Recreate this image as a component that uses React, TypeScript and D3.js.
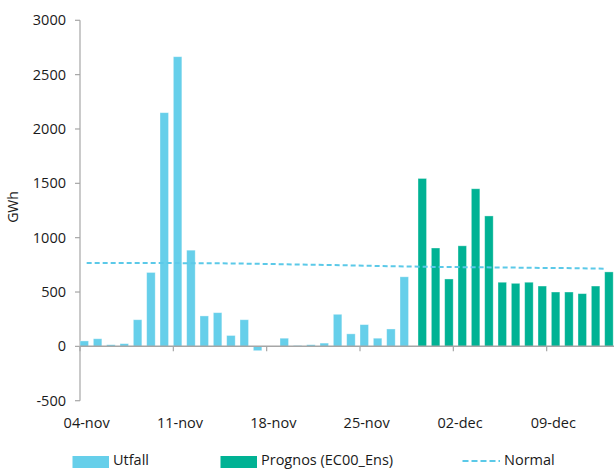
import * as d3 from "d3";

const days = [
  "04-nov", "05-nov", "06-nov", "07-nov", "08-nov", "09-nov", "10-nov",
  "11-nov", "12-nov", "13-nov", "14-nov", "15-nov", "16-nov", "17-nov",
  "18-nov", "19-nov", "20-nov", "21-nov", "22-nov", "23-nov", "24-nov",
  "25-nov", "26-nov", "27-nov", "28-nov", "29-nov", "30-nov", "01-dec",
  "02-dec", "03-dec", "04-dec", "05-dec", "06-dec", "07-dec", "08-dec",
  "09-dec", "10-dec", "11-dec", "12-dec", "13-dec",
];

// Utfall: 04-nov .. 28-nov
const utfall = [
  50, 70, 15, 25, 245, 680, 2150, 2665, 885, 280, 310, 100, 245,
  -40, -5, 75, 8, 15, 30, 295, 115, 200, 75, 160, 640,
];

// Prognos (EC00_Ens): 29-nov .. 13-dec
const prognosStart = "29-nov";
const prognos = [
  1545, 905, 620, 925, 1450, 1200, 590, 580, 590, 555, 500, 500, 485, 555, 685,
];

// Normal: every day
const normal = [
  768, 768, 768, 767, 767, 767, 766, 766, 765, 765,
  764, 763, 761, 759, 757, 755, 753, 751, 749, 747,
  744, 742, 739, 737, 735, 733, 731, 730, 729, 728,
  727, 726, 725, 723, 722, 721, 720, 718, 716, 714,
];

const weekTicks = ["04-nov", "11-nov", "18-nov", "25-nov", "02-dec", "09-dec"];
const yTicks = [-500, 0, 500, 1000, 1500, 2000, 2500, 3000];

const W = 614;
const H = 470;
const FONT = "'Open Sans', 'Liberation Sans', sans-serif";
const C_UTFALL = "#66cfea";
const C_PROGNOS = "#00b294";
const C_NORMAL = "#5bc9e8";
const C_AXIS = "#a6a6a6";
const C_TEXT = "#1a1a1a";

export default function App() {
  const x = d3.scaleBand<string>().domain(days).range([80, 80 + days.length * (40 / 3)]);
  const y = d3.scaleLinear().domain([-500, 3000]).range([400.7, 20.3]);
  const bw = x.bandwidth();
  const barW = bw * 0.64;
  // clustered series, second one shifted inside the day slot
  const inner = d3.scalePoint<string>().domain(["Utfall", "Prognos"]).range([0, bw * 0.35]);

  const pStart = days.indexOf(prognosStart);
  const y0 = y(0);

  const line = d3
    .line<number>()
    .x((_, i) => (x(days[i]) as number) + bw / 2)
    .y((d) => y(d));

  const bar = (v: number) => ({ yTop: Math.min(y(v), y0), h: Math.abs(y(v) - y0) });

  const legendY = 465;

  return (
    <svg
      width={W}
      height={H}
      style={{ position: "absolute", left: 0, top: 0, background: "#fff" }}
      fontFamily={FONT}
    >
      {/* y axis */}
      <line x1={80} x2={80} y1={y(3000)} y2={y(-500)} stroke={C_AXIS} strokeWidth={1.2} />
      {yTicks.map((t) => (
        <g key={t}>
          <line x1={75} x2={80} y1={y(t)} y2={y(t)} stroke={C_AXIS} strokeWidth={1.2} />
          <text x={66} y={y(t)} dy="0.35em" textAnchor="end" fontSize={14.5} fill={C_TEXT}>
            {t}
          </text>
        </g>
      ))}
      <text
        transform={`translate(18,207) rotate(-90)`}
        textAnchor="middle"
        fontSize={14}
        fill={C_TEXT}
      >
        GWh
      </text>

      {/* bars */}
      {utfall.map((v, i) => {
        const b = bar(v);
        return (
          <rect
            key={"u" + i}
            x={(x(days[i]) as number) + (inner("Utfall") as number)}
            y={b.yTop}
            width={barW}
            height={b.h}
            fill={C_UTFALL}
            stroke="#fff"
            strokeOpacity={0.45}
            strokeWidth={0.8}
          />
        );
      })}
      {prognos.map((v, i) => {
        const b = bar(v);
        return (
          <rect
            key={"p" + i}
            x={(x(days[pStart + i]) as number) + (inner("Prognos") as number)}
            y={b.yTop}
            width={barW}
            height={b.h}
            fill={C_PROGNOS}
            stroke="#fff"
            strokeOpacity={0.45}
            strokeWidth={0.8}
          />
        );
      })}

      {/* x axis */}
      <line x1={80} x2={W} y1={y0} y2={y0} stroke={C_AXIS} strokeWidth={1.5} />
      {weekTicks.map((d) => (
        <g key={d}>
          <line
            x1={x(d) as number}
            x2={x(d) as number}
            y1={y0}
            y2={y0 + 5}
            stroke={C_AXIS}
            strokeWidth={1.2}
          />
          <text
            x={(x(d) as number) + bw / 2}
            y={428}
            textAnchor="middle"
            fontSize={14.5}
            fill={C_TEXT}
          >
            {d}
          </text>
        </g>
      ))}

      {/* normal */}
      <path
        d={line(normal) || ""}
        fill="none"
        stroke={C_NORMAL}
        strokeWidth={2}
        strokeDasharray="5,3"
      />

      {/* legend */}
      <rect x={72.5} y={legendY - 9} width={36.5} height={12} fill={C_UTFALL} />
      <text x={113} y={legendY} fontSize={14.5} fill={C_TEXT}>Utfall</text>
      <rect x={220.5} y={legendY - 9} width={36.5} height={12} fill={C_PROGNOS} />
      <text x={261} y={legendY} fontSize={14.5} fill={C_TEXT}>Prognos (EC00_Ens)</text>
      <line
        x1={462.5}
        x2={500}
        y1={legendY - 4}
        y2={legendY - 4}
        stroke={C_NORMAL}
        strokeWidth={2}
        strokeDasharray="6,3"
      />
      <text x={504} y={legendY} fontSize={14.5} fill={C_TEXT}>Normal</text>
    </svg>
  );
}
